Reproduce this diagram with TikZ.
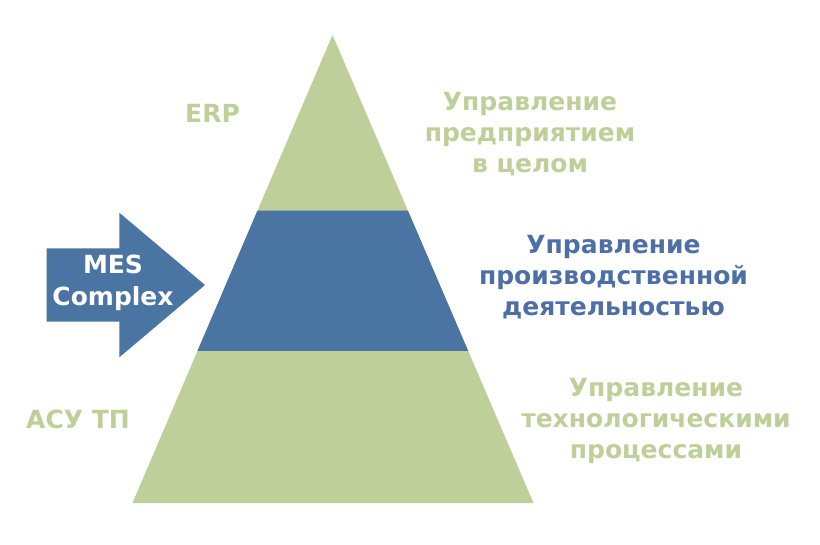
\documentclass[tikz,border=0pt]{standalone}
\usepackage{fontspec}
\setmainfont{DejaVu Sans}
\usepackage{tikz}
\usetikzlibrary{calc,positioning}
\definecolor{pgreen}{HTML}{BFCF9A}
\definecolor{pblue}{HTML}{4A74A1}
\definecolor{tblue}{HTML}{4E6FA6}

\begin{document}
\begin{tikzpicture}[x=1pt,y=-1pt]
\tikzstyle{lbl}=[align=center,inner sep=0pt,anchor=base,font=\fontsize{25}{31}\selectfont\bfseries]
\tikzstyle{greenlbl}=[lbl,text=pgreen]
\tikzstyle{bluelbl}=[lbl,text=tblue]

\useasboundingbox (0,0) rectangle (820,544);

% pyramid corners
\coordinate (apex) at (332.5,35);
\coordinate (bl) at (132.5,503);
\coordinate (br) at (533.5,503);
\coordinate (tl) at ($(apex)!0.375!(bl)$);
\coordinate (tr) at ($(apex)!0.375!(br)$);
\coordinate (ml) at ($(apex)!0.675!(bl)$);
\coordinate (mr) at ($(apex)!0.675!(br)$);

\fill[pgreen] (apex) -- (bl) -- (br) -- cycle;
\fill[pblue] (tl) -- (tr) -- (mr) -- (ml) -- cycle;

% arrow
\fill[pblue] (46.7,248.3) -- (119.3,248.3) -- (119.3,212.7) -- (205,285)
  -- (119.3,357.3) -- (119.3,321.7) -- (46.7,321.7) -- cycle;
\node[lbl,text=white,font=\fontsize{25}{32}\selectfont\bfseries] (mes) at (113,305) {MES\\Complex};

\node[greenlbl] (erp) at (212.5,122.5) {ERP};
\node[greenlbl] (asutp) at (78,428.3) {АСУ ТП};

% base = last line
\node[greenlbl] (enterprise) at (530,172) {Управление\\предприятием\\в целом};
\node[bluelbl] (production) at (613.5,315.3) {Управление\\производственной\\деятельностью};
\node[greenlbl] (process) at (656,458.7) {Управление\\технологическими\\процессами};
\end{tikzpicture}
\end{document}
